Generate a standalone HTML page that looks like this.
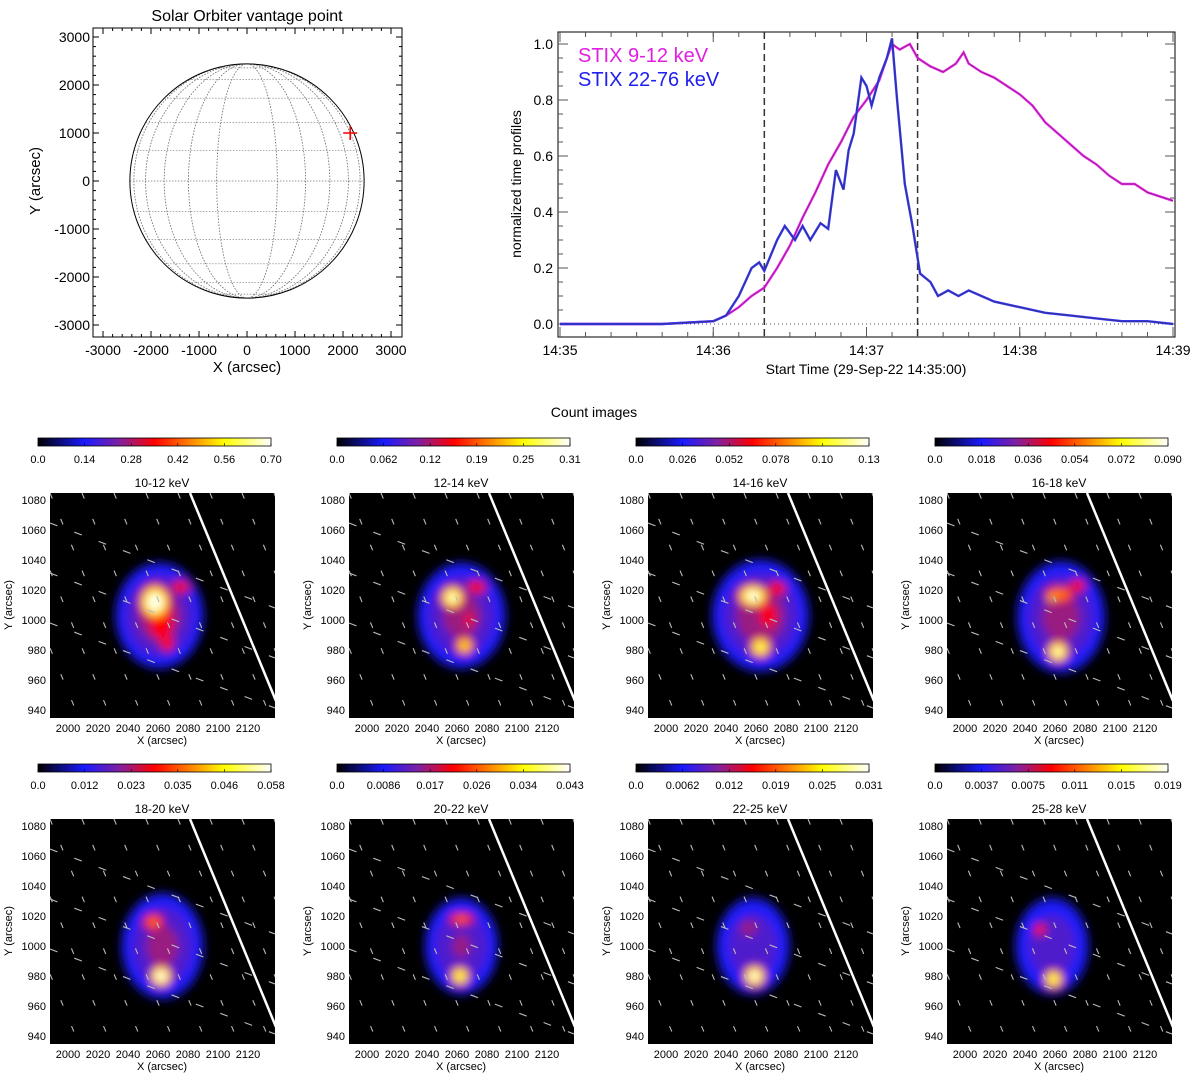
<!DOCTYPE html>
<html><head><meta charset="utf-8"><style>
html,body{margin:0;padding:0;background:#fff;}
svg{display:block;font-family:"Liberation Sans",sans-serif;}
</style></head><body>
<svg id="fig" width="1200" height="1083" viewBox="0 0 1200 1083" xmlns="http://www.w3.org/2000/svg">
<defs>
<linearGradient id="cmap" x1="0" x2="1" y1="0" y2="0">
<stop offset="0" stop-color="#000"/><stop offset="0.2" stop-color="#1a1aff"/><stop offset="0.35" stop-color="#8020a0"/><stop offset="0.5" stop-color="#ff0000"/><stop offset="0.65" stop-color="#ff8000"/><stop offset="0.8" stop-color="#ffff00"/><stop offset="1" stop-color="#fff"/>
</linearGradient>
<filter id="blur" x="-50%" y="-50%" width="200%" height="200%"><feGaussianBlur stdDeviation="4.5"/></filter>
</defs>
<g id="sun"></g>
<g id="lc"></g>
<text x="594" y="417" text-anchor="middle" font-size="14">Count images</text>
<g id="imgs"></g>
</svg>
<script>
// light curve data (seconds since 14:35:00)
const lowTimes = [0,20,40,60,65,70,75,80,85,90,95,100,105,110,115,120,125,128,130,133,137,140,145,150,155,158,160,165,170,175,180,185,190,195,200,205,210,215,220,225,230,240];
const lowVals  = [0,0,0,0.01,0.03,0.06,0.1,0.13,0.2,0.28,0.38,0.47,0.57,0.65,0.74,0.8,0.87,0.95,1.0,0.98,1.0,0.95,0.92,0.9,0.93,0.97,0.93,0.9,0.88,0.85,0.82,0.78,0.72,0.68,0.64,0.6,0.57,0.53,0.5,0.5,0.47,0.44];
const highTimes = [0,20,40,60,65,70,75,78,80,85,88,92,95,98,102,105,108,111,113,115,118,120,122,125,128,130,132,135,138,141,145,148,152,156,160,165,170,180,190,200,210,220,230,240];
const highVals  = [0,0,0,0.01,0.03,0.1,0.2,0.22,0.19,0.3,0.35,0.3,0.35,0.3,0.36,0.34,0.55,0.48,0.62,0.68,0.88,0.85,0.78,0.88,0.95,1.02,0.8,0.5,0.35,0.18,0.15,0.1,0.12,0.1,0.12,0.1,0.08,0.06,0.04,0.03,0.02,0.01,0.01,0.0];
const lcYTicks = [0,0.2,0.4,0.6,0.8,1.0];
const lcXTickLabels = ["14:35","14:36","14:37","14:38","14:39"];
const markerTimes = [80,140];
// sun panel
const sunTicks = [-3000,-2000,-1000,0,1000,2000,3000];
const sourcePos = [2150,1000];
// count images
const bandLabels = ["10-12 keV","12-14 keV","14-16 keV","16-18 keV","18-20 keV","20-22 keV","22-25 keV","25-28 keV"];
const cbarLabels = [
 ["0.0","0.14","0.28","0.42","0.56","0.70"],
 ["0.0","0.062","0.12","0.19","0.25","0.31"],
 ["0.0","0.026","0.052","0.078","0.10","0.13"],
 ["0.0","0.018","0.036","0.054","0.072","0.090"],
 ["0.0","0.012","0.023","0.035","0.046","0.058"],
 ["0.0","0.0086","0.017","0.026","0.034","0.043"],
 ["0.0","0.0062","0.012","0.019","0.025","0.031"],
 ["0.0","0.0037","0.0075","0.011","0.015","0.019"]];
// sources: [xArcsec, yArcsec, rxArcsec, ryArcsec, peak]
const sources = [
 [[2061,1003,30,36,0.36],[2062,1000,14,22,0.55],[2058,1012,13,15,1.0],[2075,1022,10,7,0.5],[2066,985,7,9,0.55]],
 [[2063,1003,30,36,0.34],[2068,1000,9,14,0.45],[2057,1015,10,10,0.95],[2065,983,8,8,0.8],[2073,1022,10,7,0.52]],
 [[2063,1003,33,38,0.36],[2068,1003,10,14,0.55],[2058,1016,13,10,0.97],[2063,982,9,9,0.9],[2074,1021,9,7,0.55]],
 [[2064,1002,30,38,0.34],[2063,1017,14,8,0.65],[2058,1015,5,4,0.78],[2062,979,9,9,0.95],[2075,1023,8,6,0.55]],
 [[2063,1000,28,36,0.33],[2057,1016,10,8,0.6],[2062,980,9,9,1.0]],
 [[2063,1000,25,33,0.31],[2063,1018,12,6,0.58],[2062,980,8,8,0.92]],
 [[2058,1000,25,33,0.29],[2055,1012,9,8,0.42],[2059,980,9,9,0.98]],
 [[2058,1000,25,33,0.28],[2050,1011,6,6,0.55],[2059,978,8,8,0.92]]];

const NS="http://www.w3.org/2000/svg";
function mk(tag,parent,attrs,txt){const e=document.createElementNS(NS,tag);for(const k in attrs)e.setAttribute(k,attrs[k]);if(txt!==undefined)e.textContent=txt;parent.appendChild(e);return e;}

// ---------- SUN PANEL ----------
(function(){
 const g=document.getElementById('sun');
 const cx=247,cy=181,s=0.048,R=2440;
 const sx=v=>cx+v*s, sy=v=>cy-v*s;
 const t=mk('text',g,{x:247,y:21,'text-anchor':'middle','font-size':16},'Solar Orbiter vantage point');
 
 const box=mk('rect',g,{x:93,y:28,width:309,height:309,fill:'none',stroke:'#000','stroke-width':1});
 
 const r=R*s;
 for(let lat=-75;lat<=75;lat+=15){const y=cy-r*Math.sin(lat*Math.PI/180),hw=r*Math.cos(lat*Math.PI/180);
  const l=mk('line',g,{x1:cx-hw,x2:cx+hw,y1:y,y2:y,stroke:'#777','stroke-width':0.7,'stroke-dasharray':'1.5 1.5'});
  }
 for(let lon=-75;lon<=75;lon+=15){const rx=Math.abs(r*Math.sin(lon*Math.PI/180));
  const e=mk('ellipse',g,{cx:cx,cy:cy,rx:rx,ry:r,fill:'none',stroke:'#777','stroke-width':0.7,'stroke-dasharray':'1.5 1.5'});
  }
 const c=mk('circle',g,{cx:cx,cy:cy,r:r,fill:'none',stroke:'#000','stroke-width':1});
 
 sunTicks.forEach(v=>{
  mk('line',g,{x1:sx(v),x2:sx(v),y1:337,y2:331,stroke:'#000'});mk('line',g,{x1:sx(v),x2:sx(v),y1:28,y2:34,stroke:'#000'});
  mk('line',g,{x1:93,x2:99,y1:sy(v),y2:sy(v),stroke:'#000'});mk('line',g,{x1:402,x2:396,y1:sy(v),y2:sy(v),stroke:'#000'});
  const a=mk('text',g,{x:sx(v),y:355,'text-anchor':'middle','font-size':14},String(v));
  const b=mk('text',g,{x:90,y:sy(v)+5,'text-anchor':'end','font-size':14},String(v));
 });
 for(let v=-3000;v<=3000;v+=200){mk('line',g,{x1:sx(v),x2:sx(v),y1:337,y2:334,stroke:'#000'});mk('line',g,{x1:93,x2:96,y1:sy(v),y2:sy(v),stroke:'#000'});mk('line',g,{x1:sx(v),x2:sx(v),y1:28,y2:31,stroke:'#000'});mk('line',g,{x1:402,x2:399,y1:sy(v),y2:sy(v),stroke:'#000'});}
 const xl=mk('text',g,{x:247,y:372,'text-anchor':'middle','font-size':15},'X (arcsec)');
 const yl=mk('text',g,{x:0,y:0,'text-anchor':'middle','font-size':15,transform:'translate(40,181) rotate(-90)'},'Y (arcsec)');
 const px=sx(sourcePos[0]),py=sy(sourcePos[1]);
 const m=mk('path',g,{d:`M${px-7},${py}H${px+7}M${px},${py-7}V${py+7}`,stroke:'#e00','stroke-width':1.5});
 
})();

// ---------- LIGHT CURVE ----------
(function(){
 const g=document.getElementById('lc');
 const X0=558,X1=1175,Y0=32,Y1=337;
 const xs=t=>560+t*(1173-560)/240, ys=v=>324-v*280;
 const f=mk('rect',g,{x:X0,y:Y0,width:X1-X0,height:Y1-Y0,fill:'none',stroke:'#000'});
 
 lcYTicks.forEach(v=>{mk('line',g,{x1:X0,x2:X0+10,y1:ys(v),y2:ys(v),stroke:'#555'});mk('line',g,{x1:X1,x2:X1-10,y1:ys(v),y2:ys(v),stroke:'#555'});
  const t=mk('text',g,{x:X0-5,y:ys(v)+5,'text-anchor':'end','font-size':14},v.toFixed(1));});
 for(let v=0;v<=1.05;v+=0.05){mk('line',g,{x1:X0,x2:X0+5,y1:ys(v),y2:ys(v),stroke:'#555'});mk('line',g,{x1:X1,x2:X1-5,y1:ys(v),y2:ys(v),stroke:'#555'});}
 lcXTickLabels.forEach((l,i)=>{const x=xs(i*60);mk('line',g,{x1:x,x2:x,y1:Y1,y2:Y1-10,stroke:'#555'});mk('line',g,{x1:x,x2:x,y1:Y0,y2:Y0+10,stroke:'#555'});
  const t=mk('text',g,{x:x,y:355,'text-anchor':'middle','font-size':14},l);});
 for(let s=0;s<=240;s+=10){const x=xs(s);mk('line',g,{x1:x,x2:x,y1:Y1,y2:Y1-5,stroke:'#555'});mk('line',g,{x1:x,x2:x,y1:Y0,y2:Y0+5,stroke:'#555'});}
 const z=mk('line',g,{x1:X0,x2:X1,y1:ys(0),y2:ys(0),stroke:'#555','stroke-dasharray':'1 3'});
 markerTimes.forEach(tm=>{const l=mk('line',g,{x1:xs(tm),x2:xs(tm),y1:Y0,y2:Y1,stroke:'#333','stroke-width':1.5,'stroke-dasharray':'7 4'});});
 function series(T,V,col,name){
  const pts=T.map((t,i)=>xs(t).toFixed(1)+','+ys(V[i]).toFixed(1)).join(' ');
  const a=mk('polyline',g,{points:pts,fill:'none',stroke:col,'stroke-width':2.4});
  const b=mk('polyline',g,{points:pts,fill:'none',stroke:'#333','stroke-width':0.5});
 }
 series(lowTimes,lowVals,'#ee22ee','series-9-12-kev');
 series(highTimes,highVals,'#3535f5','series-22-76-kev');
 const l1=mk('text',g,{x:578,y:62,'font-size':20,fill:'#e020e0'},'STIX 9-12 keV');
 const l2=mk('text',g,{x:578,y:86,'font-size':20,fill:'#2020f0'},'STIX 22-76 keV');
 const xt=mk('text',g,{x:866,y:374,'text-anchor':'middle','font-size':14},'Start Time (29-Sep-22 14:35:00)');
 const yt=mk('text',g,{x:0,y:0,'text-anchor':'middle','font-size':14,transform:'translate(521,184) rotate(-90)'},'normalized time profiles');
})();

// ---------- COUNT IMAGES ----------
(function(){
 const g=document.getElementById('imgs');
 const cols=[50,349,648,947], rows=[493,819];
 const stops=[[0,[0,0,0]],[0.2,[26,26,255]],[0.35,[128,32,160]],[0.5,[255,0,0]],[0.65,[255,128,0]],[0.8,[255,255,0]],[1,[255,255,255]]];
 function cmap(v){v=Math.max(0,Math.min(1,v));for(let i=1;i<stops.length;i++){if(v<=stops[i][0]){const a=stops[i-1],b=stops[i],f=(v-a[0])/(b[0]-a[0]);return 'rgb('+a[1].map((c,k)=>Math.round(c+(b[1][k]-c)*f)).join(',')+')';}}return '#fff';}
 const levels=[0.06,0.12,0.2,0.3,0.42,0.55,0.68,0.8,0.92];
 for(let p=0;p<8;p++){
  const x0=cols[p%4],y0=rows[Math.floor(p/4)];
  const px=v=>x0+(v-1988)*1.5, py=v=>y0+(1084.7-v)*1.5;
  const pg=mk('g',g,{});
  const cb=mk('rect',pg,{x:x0-12,y:y0-55,width:233,height:8,fill:'url(#cmap)',stroke:'#000','stroke-width':0.8});
  
  cbarLabels[p].forEach((l,i)=>{const x=x0-12+i*233/5;mk('line',pg,{x1:x,x2:x,y1:y0-47,y2:y0-50,stroke:'#000','stroke-width':0.6});
   const t=mk('text',pg,{x:x,y:y0-30,'text-anchor':'middle','font-size':11},l);});
  const tt=mk('text',pg,{x:x0+112,y:y0-6,'text-anchor':'middle','font-size':12},bandLabels[p]);
  const cid='clip'+p;const cp=mk('clipPath',pg,{id:cid});mk('rect',cp,{x:x0,y:y0,width:225,height:225});
  const bg=mk('rect',pg,{x:x0,y:y0,width:225,height:225,fill:'#000'});
  const ig=mk('g',pg,{'clip-path':'url(#'+cid+')'});
  const bl=mk('g',ig,{filter:'url(#blur)'});
  levels.forEach(l=>{
   sources[p].forEach((s,si)=>{
    if(l>=s[4])return;
    if(si>0&&l<0.2)return;
    const k=Math.pow(1-(l-0.06)/(s[4]-0.06),0.45);
    const e=mk('ellipse',bl,{cx:px(s[0]),cy:py(s[1]),rx:s[2]*1.5*k,ry:s[3]*1.5*k,fill:cmap(Math.min(1,l+0.08))});
    
   });
  });
  for(let i=-5;i<8;i++){const ox=x0+i*32;
   const d=mk('line',ig,{x1:ox,y1:y0,x2:ox+95,y2:y0+230,stroke:'#bbb','stroke-width':1.1,'stroke-dasharray':'6 22'});}
  for(let j=0;j<3;j++){const d=mk('line',ig,{x1:x0,y1:y0+30+j*50,x2:x0+225,y2:y0+115+j*50,stroke:'#bbb','stroke-width':1.1,'stroke-dasharray':'8 18'});}
  const limb=mk('line',ig,{x1:x0+140,y1:y0,x2:x0+226,y2:y0+208,stroke:'#fff','stroke-width':2.5});
  [1080,1060,1040,1020,1000,980,960,940].forEach(v=>{const t=mk('text',pg,{x:x0-4,y:py(v)+4,'text-anchor':'end','font-size':11},String(v));});
  [2000,2020,2040,2060,2080,2100,2120].forEach(v=>{const t=mk('text',pg,{x:px(v),y:y0+239,'text-anchor':'middle','font-size':11},String(v));});
  const xl=mk('text',pg,{x:x0+112,y:y0+251,'text-anchor':'middle','font-size':11},'X (arcsec)');
  const yl=mk('text',pg,{x:0,y:0,'text-anchor':'middle','font-size':11,transform:`translate(${x0-38},${y0+112}) rotate(-90)`},'Y (arcsec)');
 }
})();
</script>
</body></html>
